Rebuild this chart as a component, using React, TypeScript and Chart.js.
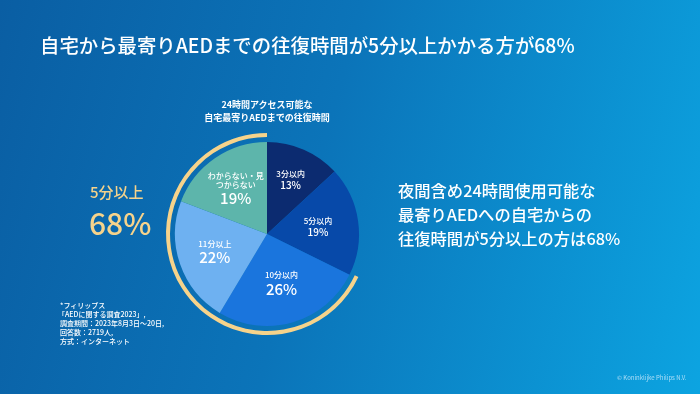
import React, { useEffect, useRef } from "react";
import { Chart, registerables } from "chart.js";

Chart.register(...registerables);

// ---- data ----
const categories = ["3分以内", "5分以内", "10分以内", "11分以上", "わからない・見つからない"];
const labelLines = [["3分以内"], ["5分以内"], ["10分以内"], ["11分以上"], ["わからない・見", "つからない"]];
const values = [13, 19, 26, 22, 19];
const overFiveShare = 68; // 5分以上
const underFiveShare = values[0] + values[1];

// ---- style ----
const sliceColors = ["#0c2b70", "#0749a9", "#1a75dd", "#6eb1f1", "#5db5ab"];
const gold = "#f6d38b";
const pctFontSizes = [10, 10, 15, 15, 15];
const labelRadiusFrac = [0.64, 0.56, 0.56, 0.6, 0.6];
const FONT = "'Noto Sans CJK JP', 'Noto Sans', sans-serif";

const labelPlugin = {
  id: "sliceLabels",
  afterDatasetsDraw(chart: any) {
    const meta = chart.getDatasetMeta(2);
    const ctx = chart.ctx;
    ctx.save();
    ctx.fillStyle = "#ffffff";
    ctx.textAlign = "center";
    ctx.textBaseline = "middle";
    meta.data.forEach((arc: any, i: number) => {
      const p = arc.getProps(["x", "y", "startAngle", "endAngle", "outerRadius"], true);
      const mid = (p.startAngle + p.endAngle) / 2;
      const r = p.outerRadius * labelRadiusFrac[i];
      const ax = p.x + Math.cos(mid) * r;
      const ay = p.y + Math.sin(mid) * r;
      const lines = labelLines[i];
      const fs = pctFontSizes[i];
      const lh = 9;
      const H = lines.length * lh + fs + 2;
      let y = ay - H / 2;
      ctx.font = `500 8px ${FONT}`;
      lines.forEach((ln) => {
        ctx.fillText(ln, ax, y + lh / 2);
        y += lh;
      });
      y += 2;
      ctx.font = `500 ${fs}px ${FONT}`;
      ctx.fillText(`${values[i]}%`, ax, y + fs / 2);
    });
    ctx.restore();
  },
};

export default function App() {
  const ref = useRef<HTMLCanvasElement | null>(null);

  useEffect(() => {
    document.body.style.margin = "0";
    const chart = new Chart(ref.current as HTMLCanvasElement, {
      type: "doughnut",
      data: {
        labels: categories,
        datasets: [
          {
            data: [underFiveShare, overFiveShare],
            backgroundColor: ["rgba(0,0,0,0)", gold],
            borderWidth: 0,
            hoverBorderWidth: 0,
            hoverOffset: 0,
            weight: 4,
          } as any,
          {
            data: [1],
            backgroundColor: ["rgba(0,0,0,0)"],
            borderWidth: 0,
            hoverBorderWidth: 0,
            hoverOffset: 0,
            weight: 5,
          } as any,
          {
            data: values,
            backgroundColor: sliceColors,
            borderWidth: 0,
            hoverBorderWidth: 0,
            hoverOffset: 0,
            weight: 92,
          } as any,
        ],
      },
      options: {
        animation: false,
        responsive: false,
        devicePixelRatio: 1,
        cutout: 0,
        events: [],
        layout: { padding: { left: 166, right: 332, top: 133, bottom: 59 } },
        plugins: {
          legend: { display: false },
          tooltip: { enabled: false },
          title: { display: false },
        },
      } as any,
      plugins: [labelPlugin],
    });
    return () => chart.destroy();
  }, []);

  const abs = (s: React.CSSProperties): React.CSSProperties => ({ position: "absolute", margin: 0, whiteSpace: "nowrap", fontFamily: FONT, ...s });

  return (
    <div
      style={{
        position: "fixed",
        left: 0,
        top: 0,
        width: 700,
        height: 394,
        overflow: "hidden",
        background: "linear-gradient(105deg, #0a5ea3 0%, #0b74b9 45%, #0ca4e1 100%)",
      }}
    >
      <canvas ref={ref} width={700} height={394} style={{ position: "absolute", left: 0, top: 0, width: 700, height: 394 }} />
      <div style={abs({ left: 40, top: 32, fontSize: 19.4, color: "#ffffff", fontWeight: 500, lineHeight: "26px" })}>
        自宅から最寄りAEDまでの往復時間が5分以上かかる方が68%
      </div>
      <div style={abs({ left: 167, width: 200, top: 98, fontSize: 9, color: "#ffffff", fontWeight: 700, textAlign: "center", lineHeight: "13px" })}>
        24時間アクセス可能な
        <br />
        自宅最寄りAEDまでの往復時間
      </div>
      <div style={abs({ left: 90, top: 182, fontSize: 15, color: gold, fontWeight: 500, lineHeight: "20px" })}>5分以上</div>
      <div style={abs({ left: 89, top: 203, fontSize: 30, color: gold, fontWeight: 500, lineHeight: "38px" })}>68%</div>
      <div style={abs({ left: 398, top: 178, fontSize: 16.3, color: "#ffffff", fontWeight: 500, lineHeight: "24px" })}>
        夜間含め24時間使用可能な
        <br />
        最寄りAEDへの自宅からの
        <br />
        往復時間が5分以上の方は68%
      </div>
      <div style={abs({ left: 58, top: 301, fontSize: 7, color: "#ffffff", fontWeight: 500, lineHeight: "9px" })}>
        <div style={{ paddingLeft: 2 }}>*フィリップス</div>
        <div>「AEDに関する調査2023」,</div>
        <div style={{ paddingLeft: 2 }}>調査期間：2023年8月3日～20日,</div>
        <div style={{ paddingLeft: 2 }}>回答数：2719人,</div>
        <div style={{ paddingLeft: 2 }}>方式：インターネット</div>
      </div>
      <div style={abs({ left: 617, top: 374, fontSize: 6, color: "rgba(220,240,255,0.75)", lineHeight: "8px" })}>© Koninklijke Philips N.V.</div>
    </div>
  );
}
